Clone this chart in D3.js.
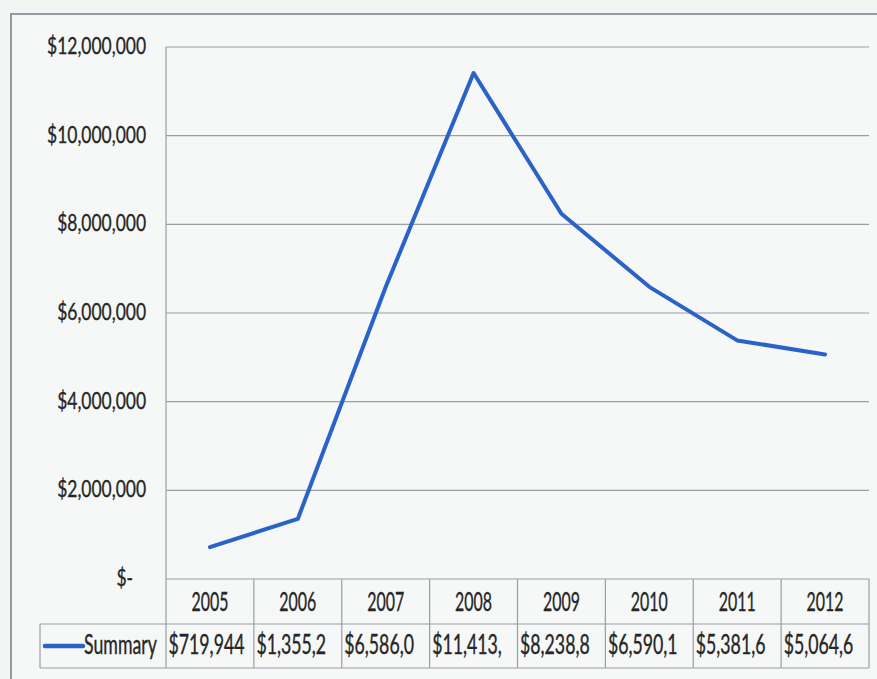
<!DOCTYPE html>
<html>
<head>
<meta charset="utf-8">
<script src="https://cdn.jsdelivr.net/npm/d3@7"></script>
<style>
  html, body { margin: 0; padding: 0; background: #f3f4f4; }
  svg { display: block; }
  text { font-family: Lato, "Open Sans", sans-serif; fill: #262626; stroke: #262626; stroke-width: 0.35; font-variant-numeric: tabular-nums; }
</style>
</head>
<body>
<svg id="chart" width="877" height="679"></svg>
<script>
// Yearly summary totals with a data table under the category axis
const years = ["2005", "2006", "2007", "2008", "2009", "2010", "2011", "2012"];
const summary = [719944, 1355212, 6586047, 11413290, 8238815, 6590138, 5381642, 5064618];
const seriesName = "Summary";
const yTicks = [0, 2000000, 4000000, 6000000, 8000000, 10000000, 12000000];
const yTickLabels = ["$-", "$2,000,000", "$4,000,000", "$6,000,000", "$8,000,000", "$10,000,000", "$12,000,000"];

const svg = d3.select("#chart");
const W = 877, H = 679;

const plot = { left: 166, right: 869, top: 47, bottom: 579 };
const table = { headerBottom: 624, bottom: 668, legendLeft: 40 };

const x = d3.scaleBand().domain(years).range([plot.left, plot.right]);
const y = d3.scaleLinear().domain([0, 12000000]).range([plot.bottom, plot.top]);

const gridColor = "#9b9ea6";
const lineColor = "#2a63c8";

// page background and outer chart frame
svg.append("rect").attr("width", W).attr("height", H).attr("fill", "#f3f4f4");
svg.append("rect")
  .attr("x", 11).attr("y", 14).attr("width", W + 10).attr("height", H + 10)
  .attr("fill", "#f6f7f7").attr("stroke", "#7d838f").attr("stroke-width", 1.6);

// horizontally condensed text helper
function label(g, str, px, py, size, anchor, sx) {
  return g.append("text")
    .attr("transform", `translate(${px},${py}) scale(${sx},1)`)
    .attr("text-anchor", anchor)
    .attr("font-size", size)
    .text(str);
}
function widthOf(str, size) {
  const t = svg.append("text").attr("font-size", size).text(str);
  const w = t.node().getComputedTextLength();
  t.remove();
  return w;
}

// gridlines
const grid = svg.append("g");
grid.selectAll("line").data(yTicks.filter(d => d > 0)).join("line")
  .attr("x1", plot.left).attr("x2", plot.right)
  .attr("y1", d => y(d)).attr("y2", d => y(d))
  .attr("stroke", gridColor).attr("stroke-width", 1.2);

// value axis labels
const axisSize = 24;
const axisSx = 99 / widthOf("$12,000,000", axisSize);
const axisG = svg.append("g");
yTicks.forEach((t, i) => {
  const lab = yTickLabels[i];
  const right = t === 0 ? 133 : 146;
  label(axisG, lab, right, y(t) + 7, axisSize, "end", axisSx);
});

// data table frame
const tg = svg.append("g").attr("stroke", gridColor).attr("stroke-width", 1.2).attr("fill", "none");
tg.append("line").attr("x1", plot.left).attr("x2", plot.right).attr("y1", plot.bottom).attr("y2", plot.bottom);
tg.append("line").attr("x1", table.legendLeft).attr("x2", plot.right).attr("y1", table.headerBottom).attr("y2", table.headerBottom);
tg.append("line").attr("x1", table.legendLeft).attr("x2", plot.right).attr("y1", table.bottom).attr("y2", table.bottom);
tg.append("line").attr("x1", table.legendLeft).attr("x2", table.legendLeft).attr("y1", table.headerBottom).attr("y2", table.bottom);
// value axis line / left edge of table
tg.append("line").attr("x1", plot.left).attr("x2", plot.left).attr("y1", plot.top).attr("y2", table.bottom);
years.forEach(yr => {
  const xr = x(yr) + x.bandwidth();
  tg.append("line").attr("x1", xr).attr("x2", xr).attr("y1", plot.bottom).attr("y2", table.bottom);
});

// header row: years
const headSize = 27;
const headSx = 37 / widthOf("2005", headSize);
const hg = svg.append("g");
years.forEach(yr => label(hg, yr, x(yr) + x.bandwidth() / 2, 611, headSize, "middle", headSx));

// value row: currency strings cut to the cell width
const valSize = 26;
const valSx = 76 / widthOf("$719,944", valSize);
const fmt = d3.format("$,");
const vg = svg.append("g");
summary.forEach((v, i) => {
  let s = fmt(Math.round(v));
  const avail = x.bandwidth() - 8;
  while (s.length > 1 && widthOf(s, valSize) * valSx > avail) s = s.slice(0, -1);
  label(vg, s, x(years[i]) + 2.5, 654, valSize, "start", valSx);
});

// legend key in the table
svg.append("line")
  .attr("x1", 45).attr("x2", 83).attr("y1", 646).attr("y2", 646)
  .attr("stroke", lineColor).attr("stroke-width", 4.5).attr("stroke-linecap", "round");
label(svg, seriesName, 84, 654, valSize, "start", valSx);

// series line
const line = d3.line()
  .x((d, i) => x(years[i]) + x.bandwidth() / 2)
  .y(d => y(d));
svg.append("path")
  .datum(summary)
  .attr("d", line)
  .attr("fill", "none")
  .attr("stroke", lineColor)
  .attr("stroke-width", 4)
  .attr("stroke-linejoin", "round")
  .attr("stroke-linecap", "round");
</script>
</body>
</html>
